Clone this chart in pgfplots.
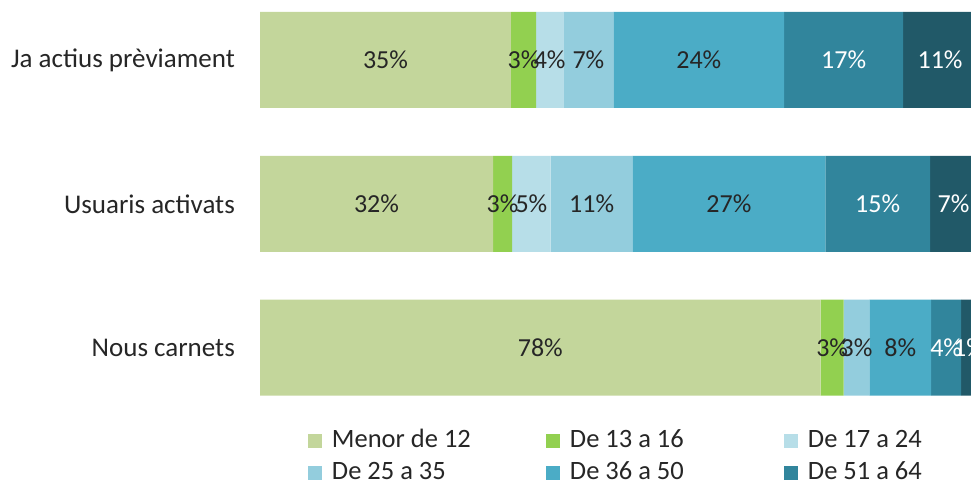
\documentclass[border=0pt]{standalone}
\usepackage{pgfplots}
\pgfplotsset{compat=1.18}
\usepackage{fontspec}
\setmainfont{Carlito}
\definecolor{c1}{HTML}{C3D69B}
\definecolor{c2}{HTML}{92D050}
\definecolor{c3}{HTML}{B7DEE8}
\definecolor{c4}{HTML}{93CDDD}
\definecolor{c5}{HTML}{4BACC6}
\definecolor{c6}{HTML}{31859C}
\definecolor{c7}{HTML}{215968}
\definecolor{txt}{HTML}{262626}
\newcommand\bigf{\fontsize{26bp}{31bp}\selectfont}
\newcommand\catf{\fontsize{27bp}{32bp}\selectfont}
\newcommand\legf{\fontsize{26.5bp}{31bp}\selectfont}
\begin{document}
\begin{tikzpicture}
\begin{axis}[
  at={(260bp,74bp)}, anchor=south west,
  width=717bp, height=408bp, scale only axis,
  xbar stacked, bar width=96bp,
  xmin=0, xmax=100, ymin=-0.42, ymax=2.417,
  axis x line=none, axis y line*=left,
  y axis line style={draw=none},
  ytick={0,1,2},
  yticklabels={Nous carnets, Usuaris activats, Ja actius prèviament},
  ytick style={draw=none},
  yticklabel style={font=\catf, text=txt, inner sep=0pt, xshift=-25bp},
  point meta=explicit symbolic,
  nodes near coords={\pgfplotspointmeta},
  every node near coord/.append style={anchor=center, font=\bigf, text=txt, inner sep=0pt},
  legend columns=3,
  legend cell align=left,
  legend style={at={(axis description cs:0.0669,-0.049)}, anchor=north west, draw=none, fill=none, inner sep=0pt, outer sep=0pt, font=\legf, text=txt, row sep=6bp, column sep=0pt, nodes={inner sep=0pt, text height=20bp, text depth=6bp}, /tikz/every odd column/.append style={column sep=10bp}},
  legend image code/.code={\fill[#1] (0bp,-7bp) rectangle (14bp,7bp);},
  clip=false,
]
\addplot[fill=c1, draw=none] coordinates {(35.0,2) [35\%] (32.5,1) [32\%] (78.2,0) [78\%]};
\addlegendentry{\makebox[214bp][l]{Menor de 12}}
\addplot[fill=c2, draw=none] coordinates {(3.5,2) [3\%] (2.65,1) [3\%] (3.2,0) [3\%]};
\addlegendentry{\makebox[214bp][l]{De 13 a 16}}
\addplot[fill=c3, draw=none] coordinates {(3.8,2) [4\%] (5.4,1) [5\%] (0,0) [{}]};
\addlegendentry{De 17 a 24}
\addplot[fill=c4, draw=none] coordinates {(7.0,2) [7\%] (11.4,1) [11\%] (3.6,0) [3\%]};
\addlegendentry{De 25 a 35}
\addplot[fill=c5, draw=none] coordinates {(23.8,2) [24\%] (26.9,1) [27\%] (8.6,0) [8\%]};
\addlegendentry{De 36 a 50}
\addplot[fill=c6, draw=none, every node near coord/.append style={text=white}] coordinates {(16.6,2) [17\%] (14.6,1) [15\%] (4.2,0) [4\%]};
\addlegendentry{De 51 a 64}
\addplot[fill=c7, draw=none, every node near coord/.append style={text=white}] coordinates {(10.3,2) [11\%] (6.55,1) [7\%] (2.2,0) [1\%]};
\end{axis}
\pgfresetboundingbox
\path[use as bounding box] (0,0) rectangle (971bp,482bp);
\end{tikzpicture}
\end{document}
